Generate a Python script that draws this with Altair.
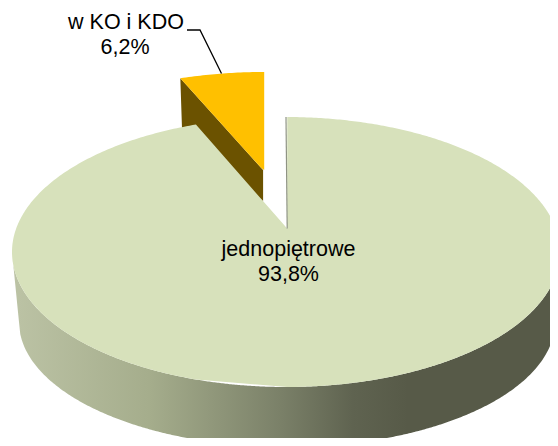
import numpy as np
import pandas as pd
import altair as alt

# data
categories = ["jednopiętrowe", "w KO i KDO"]
shares = [93.8, 6.2]

# layout constants (pixels of the page, used as scale domains)
FORESHORT = 0.86
TOP = dict(cx=286.0, cy=252.0, rx=274.0, ry=135.0)
BOT = dict(cx=287.0, cy=322.0, rx=268.0, ry=125.0)
VERTEX = (287.2, 228.5)
GOLD = dict(cx=264.2, cy=185.0, rx=255.0, ry=113.0)
GOLD_TIP = (263.0, 170.0)

phi_cut = np.radians(360 * shares[1] / 100 * FORESHORT)


def rim(e, phi):
    return e["cx"] + e["rx"] * np.sin(phi), e["cy"] - e["ry"] * np.cos(phi)


def lower(e, x):
    t = np.clip((x - e["cx"]) / e["rx"], -1, 1)
    return e["cy"] + e["ry"] * np.sqrt(1 - t ** 2)


def frame(x, y, y2):
    return pd.DataFrame({"x": x, "y": y, "y2": y2})


# wall of the big slice
wx = np.linspace(TOP["cx"] - TOP["rx"], TOP["cx"] + TOP["rx"] + 2, 400)
wy = lower(TOP, wx)
wy2 = np.where(wx < BOT["cx"] - BOT["rx"],
               TOP["cy"] + (wx - (TOP["cx"] - TOP["rx"])) / (BOT["cx"] - BOT["rx"] - (TOP["cx"] - TOP["rx"])) * (BOT["cy"] - TOP["cy"]),
               np.where(wx > BOT["cx"] + BOT["rx"], BOT["cy"], lower(BOT, wx)))
wall = frame(wx, wy, wy2)

# top face of the big slice: upper edge runs left rim -> cut -> vertex -> jump -> right rim
left_phi = np.linspace(-np.pi / 2, -phi_cut, 100)
right_phi = np.linspace(0.005, np.pi / 2, 180)
lx, ly = rim(TOP, left_phi)
rx_, ry_ = rim(TOP, right_phi)
keep = rx_ > VERTEX[0] + 0.1
ux = np.concatenate([lx, [VERTEX[0], VERTEX[0] + 0.05], rx_[keep]])
uy = np.concatenate([ly, [VERTEX[1], rim(TOP, 0.0)[1]], ry_[keep]])
face = frame(ux, uy, lower(TOP, ux))

# exploded slice
gphi = np.linspace(-phi_cut, 0, 30)
gx, gy = rim(GOLD, gphi)
gy2 = GOLD_TIP[1] + (gx - GOLD_TIP[0]) * (GOLD_TIP[1] - gy[0]) / (GOLD_TIP[0] - gx[0])
gy2 = np.minimum(gy2, GOLD_TIP[1])
gold = frame(gx, gy, gy2)

bx = np.array([gx[0], gx[0] + 1.8, GOLD_TIP[0], GOLD_TIP[0] + 0.1])
by = GOLD_TIP[1] + (bx - GOLD_TIP[0]) * (GOLD_TIP[1] - gy[0]) / (GOLD_TIP[0] - gx[0])
by2 = np.array([gy[0] + 1, gy[0] + 55, GOLD_TIP[1] + 31, GOLD_TIP[1] + 31])
brown = frame(bx, by, by2)

X = alt.X("x:Q", scale=alt.Scale(domain=[8, 550]), axis=None)
Y = alt.Y("y:Q", scale=alt.Scale(domain=[438, 8]), axis=None)


def area(df, color):
    return alt.Chart(df).mark_area(color=color, orient="vertical").encode(
        x=X, y=Y, y2=alt.Y2("y2:Q"))


wall_fill = alt.Gradient(
    gradient="linear", x1=0, x2=1, y1=0, y2=0,
    stops=[
        alt.GradientStop(color="#BCC3A5", offset=0.0),
        alt.GradientStop(color="#A5AD8C", offset=0.25),
        alt.GradientStop(color="#7A8068", offset=0.49),
        alt.GradientStop(color="#5F6350", offset=0.62),
        alt.GradientStop(color="#575A48", offset=0.72),
        alt.GradientStop(color="#575A48", offset=1.0),
    ],
)

layers = [
    area(brown, "#6B5200"),
    area(gold, "#FFC000"),
    area(wall, wall_fill),
    area(face, "#D7E1BB"),
]

# inner edge of the cut
edge = pd.DataFrame({"x": [TOP["cx"], VERTEX[0]], "y": [TOP["cy"] - TOP["ry"], VERTEX[1]], "i": [0, 1]})
layers.append(alt.Chart(edge).mark_line(color="#8F9483", strokeWidth=1.2).encode(x=X, y=Y, order=alt.Order("i:Q")))

# leader line
leader = pd.DataFrame({"x": [187.0, 200.0, 221.5], "y": [30.0, 30.0, 73.5], "i": [0, 1, 2]})
layers.append(alt.Chart(leader).mark_line(color="#000000", strokeWidth=1.3).encode(x=X, y=Y, order=alt.Order("i:Q")))


def fmt(v):
    return f"{v:.1f}%".replace(".", ",")


labels = pd.DataFrame({
    "x": [288.5, 288.5, 126.0, 125.0],
    "y": [250.0, 275.0, 23.0, 48.0],
    "t": [categories[0], fmt(shares[0]), categories[1], fmt(shares[1])],
})
layers.append(alt.Chart(labels).mark_text(
    font="Liberation Sans", fontSize=21.5, color="#000000", align="center", baseline="middle"
).encode(x=X, y=Y, text="t:N"))

chart = alt.layer(*layers).properties(
    width=542, height=430, padding=0, autosize=alt.AutoSizeParams(type="none"), background="#FFFFFF"
).configure_view(stroke=None)

chart.save("out.html", embed_options={"renderer": "svg", "actions": False})
